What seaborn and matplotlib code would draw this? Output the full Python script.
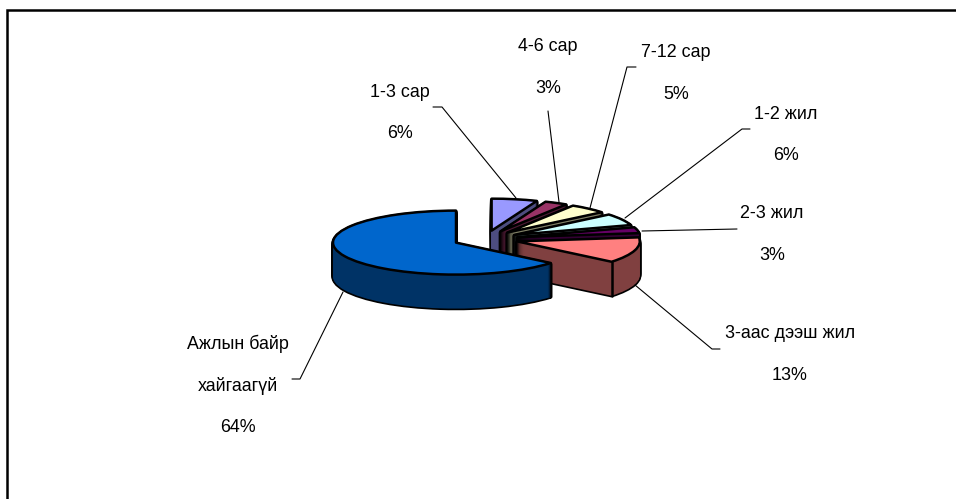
import numpy as np
import matplotlib
matplotlib.use("Agg")
import matplotlib.pyplot as plt
import seaborn as sns

# shares of each group, clockwise from 12 o'clock
categories = ["1-3 сар", "4-6 сар", "7-12 сар", "1-2 жил", "2-3 жил", "3-аас дээш жил", "Ажлын байр хайгаагүй"]
shares = [6, 3, 5, 6, 3, 13, 64]

top_colors = ["#9999FF", "#993366", "#FFFFCC", "#CCFFFF", "#660066", "#FF8080", "#0066CC"]
side_colors = ["#4D4D80", "#4D1A33", "#808066", "#668080", "#330033", "#804040", "#003366"]

# text lines per slice and where the first line sits (px)
label_lines = [
    ["1-3 сар", "6%"],
    ["4-6 сар", "3%"],
    ["7-12 сар", "5%"],
    ["1-2 жил", "6%"],
    ["2-3 жил", "3%"],
    ["3-аас дээш жил", "13%"],
    ["Ажлын байр", "хайгаагүй", "64%"],
]
label_xy = [(400, 92), (548, 46), (676, 52), (786, 114), (772, 214), (790, 334), (238, 344)]
leaders = [
    [(433, 107), (442, 107), (516, 198)],
    [(548, 111), (559, 202)],
    [(636, 67), (627, 67), (590, 208)],
    [(750, 129), (742, 129), (625, 218)],
    [(737, 229), (642, 231)],
    [(720, 349), (712, 349), (635, 285)],
    [(292, 379), (300, 379), (343, 292)],
]

W, H = 956, 499
CX, CY = 485.5, 239      # pie centre in px
RX, RY = 123, 32         # ellipse radii in px
DEPTH = 34               # thickness in px
EXPLODE = 0.265

sns.set_theme(style="white")
plt.rcParams["font.family"] = ["Liberation Sans", "DejaVu Sans"]

fig = plt.figure(figsize=(W / 100, H / 100), dpi=100, facecolor="white")
ax = fig.add_axes([0, 0, 1, 1])
explode = [EXPLODE] * len(shares)


def draw_pie(offset, colors, edge, lw, z):
    wedges, _ = ax.pie(shares, colors=sns.color_palette(colors), explode=explode, startangle=90,
                       counterclock=False, center=(0, -offset), frame=True,
                       wedgeprops=dict(edgecolor=edge, linewidth=lw))
    for i, w in enumerate(wedges):
        w.set_zorder(i * 1000 + z)
        w.set_joinstyle("round")
    return wedges


# side walls: black stack for the outline, coloured stack over it, then the top face
for px in range(DEPTH, 0, -1):
    draw_pie(px / RY, ["black"] * len(shares), "black", 2.4, 100)
    draw_pie(px / RY, side_colors, "none", 0, 300)
tops = draw_pie(0, top_colors, "black", 1.8, 900)

# front corner of the exploded 13% slice
w = tops[5]
corner = np.deg2rad(w.theta1)
x0 = w.center[0] + w.r * np.cos(corner)
y0 = w.center[1] + w.r * np.sin(corner)
ax.plot([x0, x0], [y0, y0 - DEPTH / RY], color="black", lw=1.8, zorder=5 * 1000 + 800)

ax.set_aspect("auto")
ax.set_xlim(-CX / RX, (W - CX) / RX)
ax.set_ylim((CY - H) / RY, CY / RY)
ax.axis("off")

# overlay in pixel coordinates for frame, leaders and text
over = fig.add_axes([0, 0, 1, 1], facecolor="none")
over.set_xlim(0, W)
over.set_ylim(H, 0)
over.axis("off")
over.plot([7.5, 7.5, W], [H, 9.5, 9.5], color="black", lw=1.8, solid_joinstyle="miter")

for pts in leaders:
    xs, ys = zip(*pts)
    over.plot(xs, ys, color="black", lw=0.8)

for lines, (x, y) in zip(label_lines, label_xy):
    for j, line in enumerate(lines):
        over.text(x, y + j * 42, line, ha="center", va="center", fontsize=12.9, color="black")

fig.savefig("out.png", dpi=100)
